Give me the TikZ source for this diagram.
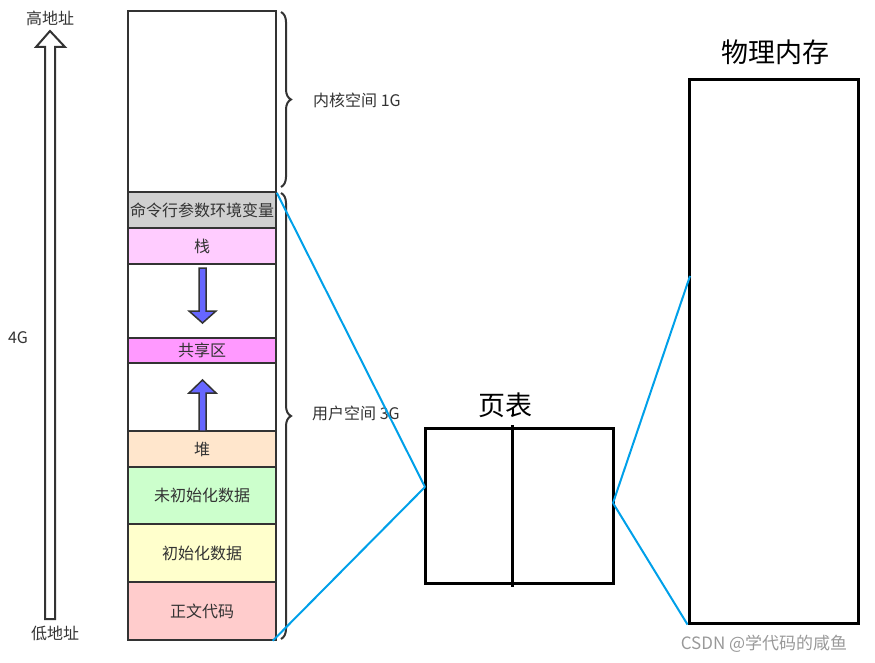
\documentclass[tikz,border=0pt]{standalone}
\usepackage{fontspec}
\setmainfont{Noto Sans CJK SC}
\usetikzlibrary{decorations.pathreplacing}
\definecolor{edge}{HTML}{333333}
\definecolor{link}{RGB}{0,160,233}
\definecolor{cmdc}{HTML}{D0D0D0}
\definecolor{stackc}{HTML}{FFCCFF}
\definecolor{sharec}{HTML}{FF99FF}
\definecolor{heapc}{HTML}{FFE6CC}
\definecolor{bssc}{HTML}{CCFFCC}
\definecolor{datac}{HTML}{FFFFCC}
\definecolor{textc}{HTML}{FFCCCC}
\definecolor{arrowc}{HTML}{6666FF}
\tikzset{
  seg/.style={draw=edge, line width=1.5pt, minimum width=148pt, inner sep=0pt, text=edge,
    font=\fontsize{16}{19}\selectfont},
  lbl/.style={text=edge, inner sep=0pt, font=\fontsize{16}{19}\selectfont},
  big/.style={text=black, inner sep=0pt, font=\fontsize{27}{32}\selectfont},
  blk/.style={draw=black, line width=3pt, inner sep=0pt},
  brc/.style={draw=edge, line width=2pt, decorate, decoration={brace, amplitude=10pt}},
  lnk/.style={draw=link, line width=2pt},
  hollow/.style={draw=edge, line width=2pt, fill=white},
  growarrow/.style={draw=edge, line width=1.5pt, fill=arrowc}
}
\begin{document}
\begin{tikzpicture}[x=1pt, y=-1pt]
\useasboundingbox (0,0) rectangle (875,663);
% address arrow
\draw[hollow] (45,619) -- (45,47) -- (36,47) -- (50,31) -- (65,47) -- (55,47) -- (55,619) -- cycle;
\node[lbl] (hi) at (50,18) {高地址};
\node[lbl] (lo) at (55,633) {低地址};
\node[lbl] (g4) at (18,338) {4G};
% memory column
\node[seg, minimum height=181pt] (kern) at (202,101.5) {};
\node[seg, fill=cmdc, minimum height=36pt] (cmd) at (202,210) {命令行参数环境变量};
\node[seg, fill=stackc, minimum height=36pt] (stack) at (202,246) {栈};
\node[seg, minimum height=74pt] (gap1) at (202,301) {};
\node[seg, fill=sharec, minimum height=25pt] (share) at (202,350.5) {共享区};
\node[seg, minimum height=68pt] (gap2) at (202,397) {};
\node[seg, fill=heapc, minimum height=36pt] (heap) at (202,449) {堆};
\node[seg, fill=bssc, minimum height=57pt] (bss) at (202,495.5) {未初始化数据};
\node[seg, fill=datac, minimum height=58pt] (data) at (202,553) {初始化数据};
\node[seg, fill=textc, minimum height=58pt] (code) at (202,611) {正文代码};
% growth arrows
\draw[growarrow] (199,268) -- (206,268) -- (206,311) -- (216,311) -- (202.5,323) -- (189,311) -- (199,311) -- cycle;
\draw[growarrow] (199,431) -- (206,431) -- (206,393) -- (216,393) -- (202.5,380) -- (189,393) -- (199,393) -- cycle;
% braces
\draw[brc] (281,12) -- (281,187);
\node[lbl, anchor=west] (kl) at (313,100) {内核空间 1G};
\draw[brc] (281,193) -- (281,639);
\node[lbl, anchor=west] (ul) at (312,413) {用户空间 3G};
% page table
\node[blk, minimum width=188pt, minimum height=155pt] (pt) at (519,505.5) {};
\draw[black, line width=3pt] (512,425) -- (512,587);
\node[big] (ptl) at (505,405) {页表};
% physical memory
\node[blk, minimum width=169pt, minimum height=543pt] (pm) at (773.5,351.5) {};
\node[big] (pml) at (775,52) {物理内存};
% links
\coordinate (pa) at (425,487);
\coordinate (pb) at (613,503);
\coordinate (pc) at (690,276);
\draw[lnk] (kern.south east) -- (pa);
\draw[lnk] (code.south east) ++(-4,0) coordinate (cb) -- (pa);
\draw[lnk] (pb) -- (pc);
\draw[lnk] (pb) -- (pm.south west);
% watermark
\node[text=gray!80, inner sep=0pt, font=\fontsize{17}{20}\selectfont] (wm) at (764,644) {CSDN @学代码的咸鱼};
\end{tikzpicture}
\end{document}
